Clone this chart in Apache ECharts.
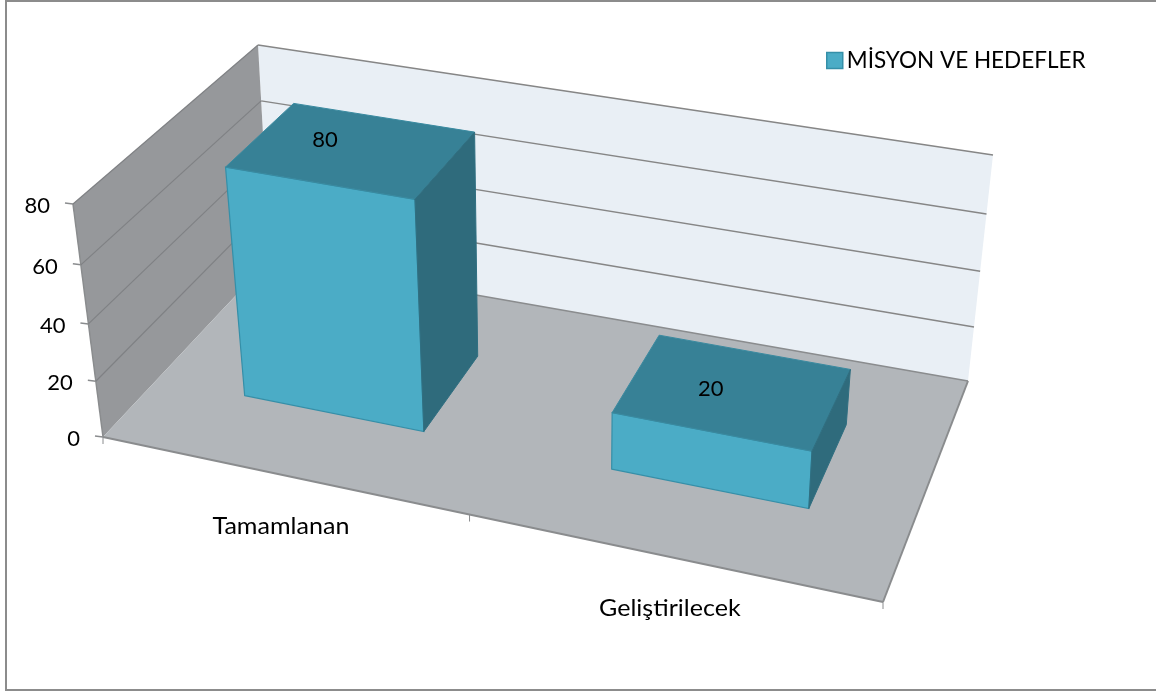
<!DOCTYPE html>
<html>
<head>
<meta charset="utf-8">
<style>
html, body { margin: 0; padding: 0; background: #fff; }
#chart { width: 1156px; height: 693px; }
</style>
<script src="https://cdn.jsdelivr.net/npm/echarts@6/dist/echarts.min.js"></script>
</head>
<body>
<div id="chart"></div>
<script>
const categories = ['Tamamlanan', 'Geliştirilecek'];
const seriesName = 'MİSYON VE HEDEFLER';
const values = [80, 20];
const yTicks = [0, 20, 40, 60, 80];

// corners of the 3d box on screen: F/B front/back, L/R left/right, 0/1 floor/top
const box = {
    FL0: [103, 437], FR0: [883, 602], BL0: [270, 259], BR0: [968, 381],
    FL1: [73, 204], FR1: [899, 352], BL1: [258, 45], BR1: [993, 155]
};
const barPerspective = 1.1, axisPerspective = 1.128; // left half of the floor looks a bit shorter
const heightPerspective = 1.06; // lower part of the walls looks a bit shorter
const barFront = 0.33, barBack = 0.72; // bar depth, fraction of the floor
const barShare = 0.5; // bar width, share of a category

const gridRect = { left: 100, top: 100, width: 800, height: 400 };

const mix = (a, b, t) => [a[0] + (b[0] - a[0]) * t, a[1] + (b[1] - a[1]) * t];

// u along category axis, v along value axis, s into the depth
const project = (u, v, s, r) => {
    const f = u / (u + r * (1 - u));
    const h = v / (v + heightPerspective * (1 - v));
    const front = mix(mix(box.FL0, box.FR0, f), mix(box.FL1, box.FR1, f), h);
    const back = mix(mix(box.BL0, box.BR0, f), mix(box.BL1, box.BR1, f), h);
    return mix(front, back, s);
};
const toU = (px) => (px - gridRect.left) / gridRect.width;
const toV = (py) => (gridRect.top + gridRect.height - py) / gridRect.height;

const poly = (points, fill, stroke, lineWidth) => ({
    type: 'polygon',
    shape: { points },
    style: { fill, stroke: stroke || null, lineWidth: lineWidth || 0 }
});
const line = (a, b, color, width) => ({
    type: 'line',
    shape: { x1: a[0], y1: a[1], x2: b[0], y2: b[1] },
    style: { stroke: color, lineWidth: width || 1.5 }
});
const label = (x, y, str, align, size, stretch) => ({
    type: 'text',
    x, y,
    scaleX: stretch || 1,
    style: {
        text: str, fill: '#000', font: (size || 22) + 'px Lato',
        align: align || 'center', verticalAlign: 'middle'
    }
});

const edgeColor = '#8a8c8e';

const renderWalls = () => ({
    type: 'group',
    children: [
        poly([box.BL0, box.BR0, box.BR1, box.BL1], '#e9eff5'),
        poly([box.FL0, box.BL0, box.BL1, box.FL1], '#96989b'),
        poly([box.FL0, box.FR0, box.BR0, box.BL0], '#b2b6ba'),
        line(box.FL0, box.FR0, edgeColor, 2),
        line(box.FR0, box.BR0, edgeColor, 2),
        line(box.BL0, box.BR0, edgeColor, 1.5),
        line(box.FL0, box.FL1, edgeColor, 1.5)
    ]
});

const renderTick = (params, api) => {
    const val = api.value(0);
    const v = toV(api.coord([0, val])[1]);
    const a = project(0, v, 0, axisPerspective);
    const b = project(0, v, 1, axisPerspective);
    const c = project(1, v, 1, axisPerspective);
    const children = [
        line([a[0] - 8, a[1] - 1], a, edgeColor, 1.5),
        label(a[0] - 23, a[1] + 2, String(val), 'right')
    ];
    if (val > 0) {
        children.push(line(a, b, '#7f8184', 1.2), line(b, c, '#868686', 1.5));
    }
    return { type: 'group', children };
};

const renderCategory = (params, api) => {
    const idx = api.value(0);
    const p = api.coord([idx, 0]);
    const halfBand = api.size([1, 0])[0] / 2;
    const mid = project(toU(p[0]), 0, 0, axisPerspective);
    const edge = project(toU(p[0] + halfBand), 0, 0, axisPerspective);
    const children = [label(mid[0], mid[1] + 52, categories[idx], 'center', 23, 1.09)];
    children.push(line(edge, [edge[0], edge[1] + 7], edgeColor, 1));
    if (idx === 0) {
        const start = project(toU(p[0] - halfBand), 0, 0, axisPerspective);
        children.push(line(start, [start[0], start[1] + 7], edgeColor, 1));
    }
    return { type: 'group', children };
};

const renderBar = (params, api) => {
    const idx = api.value(0), val = api.value(1);
    const p = api.coord([idx, val]);
    const half = api.size([1, 0])[0] * barShare / 2;
    const u0 = toU(p[0] - half), u1 = toU(p[0] + half), v = toV(p[1]);
    const r = barPerspective;
    const a = project(u0, 0, barFront, r), b = project(u1, 0, barFront, r);
    const c = project(u1, v, barFront, r), d = project(u0, v, barFront, r);
    const e = project(u1, 0, barBack, r), f = project(u1, v, barBack, r), g = project(u0, v, barBack, r);
    const top = project(toU(p[0]), v, (barFront + barBack) / 2, r);
    return {
        type: 'group',
        children: [
            poly([a, b, c, d], '#4bacc6', '#358fa8', 1.2),
            poly([d, c, f, g], '#378196', '#3a8aa0', 1),
            poly([b, e, f, c], '#2f6b7c', '#306f81', 1),
            label(top[0] - 20 - 6 * v, top[1] - 1 - 9 * v, String(val))
        ]
    };
};

const chart = echarts.init(document.getElementById('chart'));
chart.setOption({
    animation: false,
    backgroundColor: '#fff',
    grid: { left: gridRect.left, top: gridRect.top, width: gridRect.width, height: gridRect.height, show: false },
    xAxis: { type: 'category', data: categories, show: false },
    yAxis: { type: 'value', min: 0, max: 80, interval: 20, show: false },
    legend: {
        data: [seriesName],
        left: 821,
        top: 44,
        icon: 'rect',
        itemWidth: 16,
        itemHeight: 16,
        itemGap: 8,
        selectedMode: false,
        itemStyle: { borderColor: '#358fa8', borderWidth: 1.5 },
        textStyle: { fontFamily: 'Lato', fontSize: 22.5, color: '#000', padding: [0, 0, 0, -1] }
    },
    graphic: [
        { type: 'line', shape: { x1: 5, y1: 1, x2: 1156, y2: 1 }, style: { stroke: '#8c8c8c', lineWidth: 2 } },
        { type: 'line', shape: { x1: 6, y1: 0, x2: 6, y2: 691 }, style: { stroke: '#8c8c8c', lineWidth: 2 } },
        { type: 'line', shape: { x1: 5, y1: 690, x2: 1156, y2: 690 }, style: { stroke: '#8c8c8c', lineWidth: 2 } }
    ],
    series: [
        { type: 'custom', name: 'walls', silent: true, data: [[0]], renderItem: renderWalls, z: 1 },
        { type: 'custom', name: 'ticks', silent: true, data: yTicks.map((t) => [t]), encode: { y: 0 }, renderItem: renderTick, z: 2 },
        { type: 'custom', name: 'labels', silent: true, data: categories.map((c, i) => [i]), encode: { x: 0 }, renderItem: renderCategory, z: 2 },
        {
            type: 'custom',
            name: seriesName,
            itemStyle: { color: '#4bacc6' },
            data: values.map((v, i) => [i, v]),
            encode: { x: 0, y: 1 },
            renderItem: renderBar,
            z: 3
        }
    ]
});
</script>
</body>
</html>
